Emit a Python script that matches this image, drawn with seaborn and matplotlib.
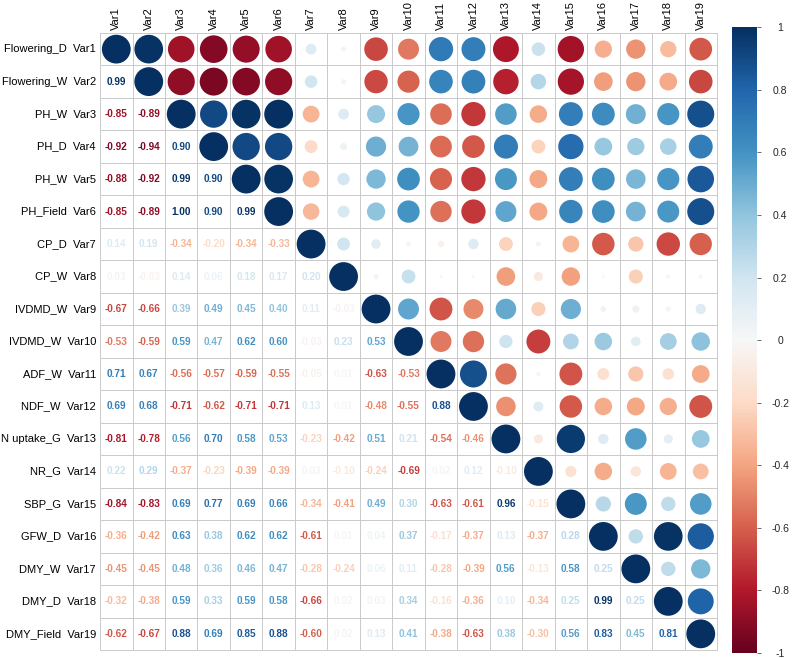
import numpy as np
import pandas as pd
import matplotlib
matplotlib.use("Agg")
import matplotlib.pyplot as plt
import seaborn as sns
from matplotlib.colors import Normalize
from matplotlib.cm import ScalarMappable

# trait names and variable codes
traits = ["Flowering_D", "Flowering_W", "PH_W", "PH_D", "PH_W", "PH_Field",
          "CP_D", "CP_W", "IVDMD_W", "IVDMD_W", "ADF_W", "NDF_W", "N uptake_G",
          "NR_G", "SBP_G", "GFW_D", "DMY_W", "DMY_D", "DMY_Field"]
var_names = ["Var" + str(i) for i in range(1, 20)]
cbar_ticks = [-1, -0.8, -0.6, -0.4, -0.2, 0, 0.2, 0.4, 0.6, 0.8, 1]

# lower triangle of the correlation matrix (row i, columns 1..i-1)
lower = [
    [],
    [0.99],
    [-0.85, -0.89],
    [-0.92, -0.94, 0.90],
    [-0.88, -0.92, 0.99, 0.90],
    [-0.85, -0.89, 1.00, 0.90, 0.99],
    [0.14, 0.19, -0.34, -0.20, -0.34, -0.33],
    [0.03, -0.03, 0.14, 0.06, 0.18, 0.17, 0.20],
    [-0.67, -0.66, 0.39, 0.49, 0.45, 0.40, 0.11, -0.03],
    [-0.53, -0.59, 0.59, 0.47, 0.62, 0.60, -0.03, 0.23, 0.53],
    [0.71, 0.67, -0.56, -0.57, -0.59, -0.55, -0.05, 0.01, -0.63, -0.53],
    [0.69, 0.68, -0.71, -0.62, -0.71, -0.71, 0.13, 0.01, -0.48, -0.55, 0.88],
    [-0.81, -0.78, 0.56, 0.70, 0.58, 0.53, -0.23, -0.42, 0.51, 0.21, -0.54, -0.46],
    [0.22, 0.29, -0.37, -0.23, -0.39, -0.39, 0.03, -0.10, -0.24, -0.69, 0.02, 0.12, -0.10],
    [-0.84, -0.83, 0.69, 0.77, 0.69, 0.66, -0.34, -0.41, 0.49, 0.30, -0.63, -0.61, 0.96, -0.15],
    [-0.36, -0.42, 0.63, 0.38, 0.62, 0.62, -0.61, 0.01, 0.04, 0.37, -0.17, -0.37, 0.13, -0.37, 0.28],
    [-0.45, -0.45, 0.48, 0.36, 0.46, 0.47, -0.28, -0.24, 0.06, 0.11, -0.28, -0.39, 0.56, -0.13, 0.58, 0.25],
    [-0.32, -0.38, 0.59, 0.33, 0.59, 0.58, -0.66, 0.02, 0.03, 0.34, -0.16, -0.36, 0.10, -0.34, 0.25, 0.99, 0.25],
    [-0.62, -0.67, 0.88, 0.69, 0.85, 0.88, -0.60, 0.02, 0.13, 0.41, -0.38, -0.63, 0.38, -0.30, 0.56, 0.83, 0.45, 0.81],
]

n = len(traits)
corr = np.eye(n)
for i, row in enumerate(lower):
    for j, v in enumerate(row):
        corr[i, j] = v
        corr[j, i] = v

# upper triangle (with diagonal) as long table for the circles
up = pd.DataFrame([(j + 0.5, i + 0.5, corr[i, j]) for i in range(n) for j in range(i, n)],
                  columns=["x", "y", "r"])
up["a"] = up["r"].abs()

sns.set_theme(style="white")
plt.rcParams["font.family"] = ["Liberation Sans", "DejaVu Sans"]

fig = plt.figure(figsize=(7.94, 6.58), dpi=100)
ax = fig.add_axes([0.126, 0.012, 0.777, 0.938])
cax = fig.add_axes([0.922, 0.0076, 0.031, 0.951])

cmap = plt.get_cmap("RdBu")
norm = Normalize(-1, 1)

# white grid
sns.heatmap(np.zeros((n, n)), cmap=["white"], cbar=False, linewidths=0.7, linecolor="#cbcbcb",
            xticklabels=var_names,
            yticklabels=[t + "  " + v for t, v in zip(traits, var_names)], ax=ax)

sns.scatterplot(data=up, x="x", y="y", hue="r", size="a", palette="RdBu", hue_norm=(-1, 1),
                sizes=(0, 430), size_norm=(0, 1), linewidth=0, legend=False, ax=ax, zorder=3)

for i in range(n):
    for j in range(i):
        v = corr[i, j]
        ax.text(j + 0.5, i + 0.5, f"{v:.2f}", ha="center", va="center", fontsize=7.2,
                fontweight="bold", color=cmap(norm(v)))

ax.set_xlim(0, n)
ax.set_ylim(n, 0)
ax.set_xlabel("")
ax.set_ylabel("")
ax.xaxis.tick_top()
ax.tick_params(length=0, labelsize=8, colors="black")
ax.tick_params(axis="x", pad=2)
ax.tick_params(axis="y", pad=3)
plt.setp(ax.get_xticklabels(), rotation=90)
plt.setp(ax.get_yticklabels(), rotation=0)
for s in ax.spines.values():
    s.set_visible(True)
    s.set_color("#cbcbcb")
    s.set_linewidth(0.7)

cb = fig.colorbar(ScalarMappable(norm=norm, cmap=cmap), cax=cax, ticks=cbar_ticks)
cb.outline.set_visible(False)
cb.ax.set_yticklabels([f"{t:g}" for t in cbar_ticks])
cb.ax.tick_params(length=3, width=0.6, color="#555555", labelsize=7.5, pad=14)
plt.setp(cb.ax.get_yticklabels(), ha="center")

fig.savefig("out.png", dpi=100)
